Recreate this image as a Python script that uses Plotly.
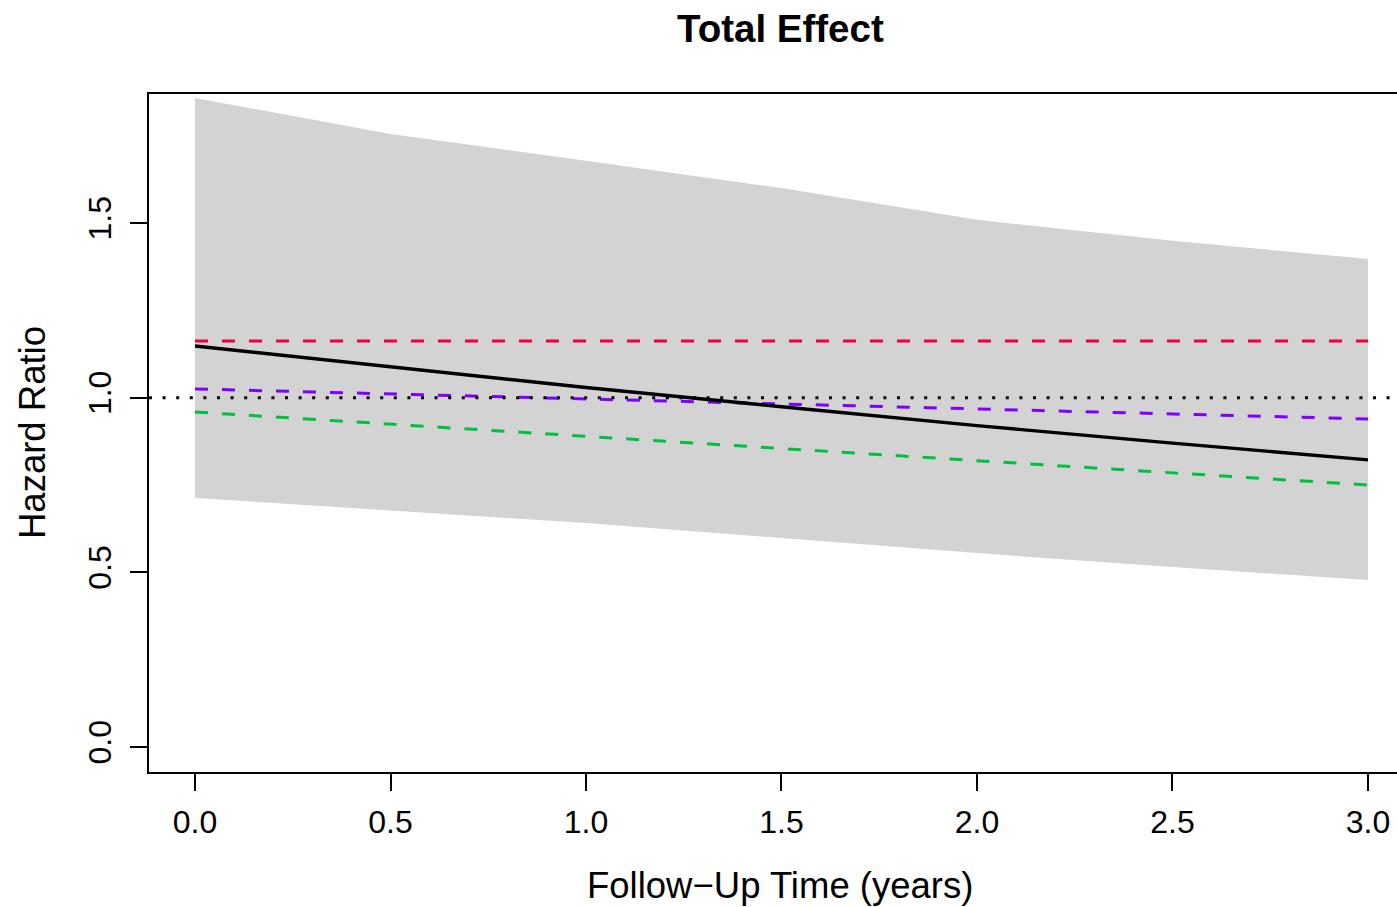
import plotly.graph_objects as go

# ---- data ----
time = [0.0, 0.5, 1.0, 1.5, 2.0, 2.5, 3.0]
ci_upper = [1.858, 1.755, 1.678, 1.600, 1.509, 1.449, 1.397]
ci_lower = [0.713, 0.676, 0.641, 0.598, 0.555, 0.515, 0.478]
total_effect = [1.148, 1.088, 1.029, 0.974, 0.920, 0.870, 0.822]
red_series = [1.162, 1.162, 1.162, 1.162, 1.162, 1.162, 1.162]
purple_series = [1.025, 1.011, 0.996, 0.982, 0.968, 0.953, 0.939]
green_series = [0.959, 0.924, 0.889, 0.855, 0.820, 0.785, 0.750]
reference_hr = 1.0

x_ticks = [0.0, 0.5, 1.0, 1.5, 2.0, 2.5, 3.0]
x_tick_labels = ["0.0", "0.5", "1.0", "1.5", "2.0", "2.5", "3.0"]
y_ticks = [0.0, 0.5, 1.0, 1.5]
y_tick_labels = ["0.0", "0.5", "1.0", "1.5"]

FONT = "Liberation Sans, Arial, Helvetica, sans-serif"

fig = go.Figure()

# confidence band
fig.add_trace(go.Scatter(x=time, y=ci_lower, mode="lines", line=dict(width=0),
                         hoverinfo="skip", showlegend=False))
fig.add_trace(go.Scatter(x=time, y=ci_upper, mode="lines", line=dict(width=0),
                         fill="tonexty", fillcolor="#D3D3D3",
                         hoverinfo="skip", showlegend=False))

dash = "13px,14px"
fig.add_trace(go.Scatter(x=time, y=red_series, mode="lines",
                         line=dict(color="#F0003C", width=3, dash=dash), showlegend=False))
fig.add_trace(go.Scatter(x=time, y=purple_series, mode="lines",
                         line=dict(color="#7F00FF", width=3, dash=dash), showlegend=False))
fig.add_trace(go.Scatter(x=time, y=green_series, mode="lines",
                         line=dict(color="#00C040", width=3, dash=dash), showlegend=False))
fig.add_trace(go.Scatter(x=time, y=total_effect, mode="lines",
                         line=dict(color="black", width=3.4), showlegend=False))

# reference line at HR = 1
fig.add_shape(type="line", xref="paper", x0=0, x1=1, yref="y", y0=reference_hr, y1=reference_hr,
              line=dict(color="black", width=3, dash="3px,10.6px"), layer="above")

fig.update_layout(
    width=1397, height=907,
    margin=dict(l=149, r=0, t=94, b=135),
    paper_bgcolor="white", plot_bgcolor="white",
    font=dict(family=FONT, color="black"),
    xaxis=dict(range=[-0.11765, 3.0742], tickmode="array", tickvals=x_ticks,
               ticktext=x_tick_labels, showgrid=False, zeroline=False,
               showline=True, linecolor="black", linewidth=2, mirror=True,
               ticks="outside", ticklen=17, tickwidth=2, tickcolor="black",
               tickfont=dict(size=32, family=FONT), ticklabelstandoff=4),
    yaxis=dict(range=[-0.0716, 1.8693], tickmode="array", tickvals=y_ticks,
               ticktext=y_tick_labels, showgrid=False, zeroline=False,
               showline=True, linecolor="black", linewidth=2, mirror=False,
               ticks="outside", ticklen=17, tickwidth=2, tickcolor="black",
               tickangle=-90, tickfont=dict(size=32, family=FONT), ticklabelstandoff=6),
    annotations=[
        dict(text="<b>Total Effect</b>", xref="paper", yref="paper", x=0.506, y=1.097,
             xanchor="center", yanchor="middle", showarrow=False,
             font=dict(size=38.5, family=FONT)),
        dict(text="Follow\u2212Up Time (years)", xref="paper", yref="paper", x=0.506, y=-0.1667,
             xanchor="center", yanchor="middle", showarrow=False,
             font=dict(size=36.5, family=FONT)),
        dict(text="Hazard Ratio", xref="paper", yref="paper", x=-0.09375, y=0.5,
             xanchor="center", yanchor="middle", showarrow=False, textangle=-90,
             font=dict(size=36.5, family=FONT)),
    ],
)

fig.write_html("out.html")
